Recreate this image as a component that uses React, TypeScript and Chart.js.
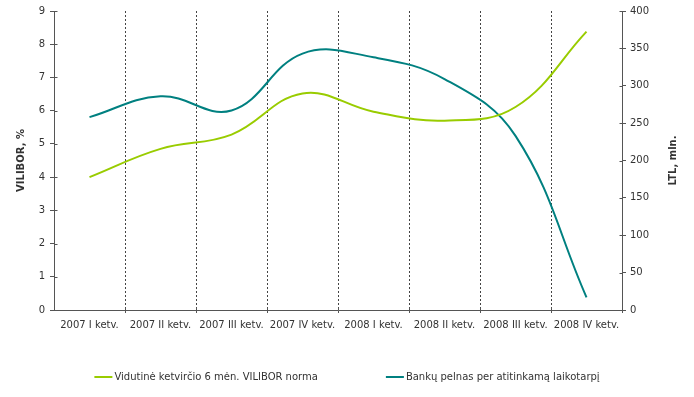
import { useEffect, useRef } from "react";
import { Chart, registerables } from "chart.js";

Chart.register(...registerables);

const categories = [
  "2007 I ketv.",
  "2007 II ketv.",
  "2007 III ketv.",
  "2007 IV ketv.",
  "2008 I ketv.",
  "2008 II ketv.",
  "2008 III ketv.",
  "2008 IV ketv.",
];
const viliborRate = [4.0, 4.85, 5.28, 6.52, 5.97, 5.7, 6.11, 8.38];
const bankProfit = [258, 286, 267, 343, 338, 309, 233, 17];
const seriesNames = [
  "Vidutinė ketvirčio 6 mėn. VILIBOR norma",
  "Bankų pelnas per atitinkamą laikotarpį",
];
const leftTitle = "VILIBOR, %";
const rightTitle = "LTL, mln.";

const GREEN = "#99CC00";
const TEAL = "#008080";
const TEXT = "#333333";
const AXIS = "#555555";
const FONT = "'DejaVu Sans', Verdana, sans-serif";

const extras = {
  id: "extras",
  afterDraw(chart: any) {
    const ctx = chart.ctx as CanvasRenderingContext2D;
    const area = chart.chartArea;
    const left = chart.scales.y;
    const right = chart.scales.y1;
    const xs = chart.scales.x;

    // inner halves of the axis tick marks (ticks cross the axis)
    ctx.save();
    ctx.strokeStyle = AXIS;
    ctx.lineWidth = 1;
    ctx.beginPath();
    left.ticks.forEach((_: any, i: number) => {
      const py = Math.round(left.getPixelForTick(i)) + 0.5;
      const ax = Math.round(area.left) + 0.5;
      ctx.moveTo(ax, py);
      ctx.lineTo(ax + 3, py);
    });
    right.ticks.forEach((_: any, i: number) => {
      const py = Math.round(right.getPixelForTick(i)) + 0.5;
      const ax = Math.round(area.right) + 0.5;
      ctx.moveTo(ax, py);
      ctx.lineTo(ax - 3, py);
    });
    for (let i = 1; i < categories.length; i++) {
      const px =
        Math.round((xs.getPixelForTick(i - 1) + xs.getPixelForTick(i)) / 2) + 0.5;
      const by = Math.round(area.bottom) + 0.5;
      ctx.moveTo(px, by);
      ctx.lineTo(px, by - 3);
    }
    ctx.stroke();
    ctx.restore();

    // right axis title, reading bottom to top
    ctx.save();
    ctx.font = `bold 10px ${FONT}`;
    ctx.fillStyle = TEXT;
    ctx.textAlign = "center";
    ctx.textBaseline = "middle";
    ctx.translate(right.right - 21, (area.top + area.bottom) / 2);
    ctx.rotate(-Math.PI / 2);
    ctx.fillText(rightTitle, 0, 0);
    ctx.restore();

    // legend
    ctx.save();
    ctx.font = `10px ${FONT}`;
    const lineW = 18;
    const gap = 2;
    const itemGap = 68;
    const items = chart.data.datasets.map((d: any) => ({
      label: d.label as string,
      color: d.borderColor as string,
      w: lineW + gap + ctx.measureText(d.label).width,
    }));
    const total =
      items.reduce((s: number, it: any) => s + it.w, 0) + itemGap * (items.length - 1);
    let x = chart.width / 2 - total / 2;
    const y = 377;
    items.forEach((it: any) => {
      ctx.strokeStyle = it.color;
      ctx.lineWidth = 2;
      ctx.beginPath();
      ctx.moveTo(x, y);
      ctx.lineTo(x + lineW, y);
      ctx.stroke();
      ctx.fillStyle = TEXT;
      ctx.textAlign = "left";
      ctx.textBaseline = "middle";
      ctx.fillText(it.label, x + lineW + gap, y);
      x += it.w + itemGap;
    });
    ctx.restore();
  },
};

export default function App() {
  const ref = useRef<HTMLCanvasElement>(null);
  useEffect(() => {
    if (!ref.current) return;
    const chart = new Chart(ref.current, {
      type: "line",
      data: {
        labels: categories,
        datasets: [
          {
            label: seriesNames[0],
            data: viliborRate,
            borderColor: GREEN,
            backgroundColor: GREEN,
            borderWidth: 2,
            pointRadius: 0,
            tension: 0.4,
            yAxisID: "y",
          },
          {
            label: seriesNames[1],
            data: bankProfit,
            borderColor: TEAL,
            backgroundColor: TEAL,
            borderWidth: 2,
            pointRadius: 0,
            tension: 0.4,
            yAxisID: "y1",
          },
        ],
      },
      options: {
        animation: false,
        responsive: false,
        maintainAspectRatio: false,
        layout: { padding: { top: 6, bottom: 57, left: 0, right: 0 } },
        plugins: {
          legend: { display: false },
          tooltip: { enabled: false },
        },
        scales: {
          x: {
            type: "category",
            offset: true,
            grid: {
              offset: true,
              color: (c: any) =>
                c.index === 0 || c.index === categories.length ? "rgba(0,0,0,0)" : "#444",
              lineWidth: 1,
              tickColor: (c: any) =>
                c.index === 0 || c.index === categories.length ? "rgba(0,0,0,0)" : AXIS,
              tickLength: 3,
              tickBorderDash: [],
            },
            border: { color: AXIS, dash: [2, 2] },
            ticks: {
              color: TEXT,
              font: { family: FONT, size: 10 },
              maxRotation: 0,
              autoSkip: false,
              padding: 6,
            },
            afterFit: (s: any) => {
              s.height = 30;
            },
          },
          y: {
            position: "left",
            min: 0,
            max: 9,
            grid: { drawOnChartArea: false, tickLength: 4, tickColor: AXIS },
            border: { color: AXIS },
            ticks: {
              stepSize: 1,
              color: TEXT,
              font: { family: FONT, size: 10 },
              padding: 5,
            },
            title: {
              display: true,
              text: leftTitle,
              color: TEXT,
              font: { family: FONT, size: 10, weight: "bold" },
              padding: { top: 15, bottom: 0 },
            },
            afterFit: (s: any) => {
              s.width = 54;
            },
          },
          y1: {
            position: "right",
            min: 0,
            max: 400,
            grid: { drawOnChartArea: false, tickLength: 4, tickColor: AXIS },
            border: { color: AXIS },
            ticks: {
              stepSize: 50,
              color: TEXT,
              font: { family: FONT, size: 10 },
              padding: 4,
            },
            afterFit: (s: any) => {
              s.width = 72;
            },
          },
        },
      },
      plugins: [extras],
    });
    return () => chart.destroy();
  }, []);
  return (
    <div
      style={{ position: "absolute", left: 0, top: 0, width: 694, height: 397, background: "#fff" }}
    >
      <canvas ref={ref} width={694} height={397} style={{ width: 694, height: 397 }} />
    </div>
  );
}
